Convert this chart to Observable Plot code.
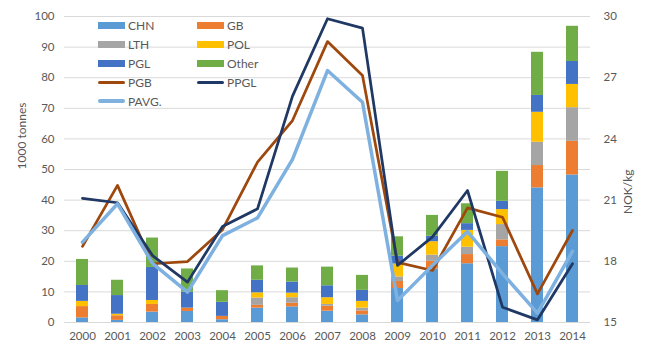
<!DOCTYPE html>
<html><head><meta charset="utf-8">
<script src="https://cdn.jsdelivr.net/npm/d3@7"></script>
<script src="https://cdn.jsdelivr.net/npm/@observablehq/plot@0.6"></script>
<style>
body{margin:0;background:#fff;font-family:Lato,"Open Sans",sans-serif;}
#wrap{position:relative;width:660px;height:364px;}
#legend{position:absolute;left:98px;top:16px;display:grid;grid-template-columns:99px 99px;grid-auto-rows:18.9px;font-size:12px;color:#595959;font-family:Lato,sans-serif;}
.item{display:flex;align-items:center;white-space:nowrap;}
.sw{width:27px;height:7px;margin-right:3px;flex:none;}
.ln{width:27px;height:3px;border-radius:2px;margin-right:3px;flex:none;}
</style></head><body><div id="wrap"><div id="legend"></div></div>
<script>
const years = [2000,2001,2002,2003,2004,2005,2006,2007,2008,2009,2010,2011,2012,2013,2014];
const seriesNames = ["CHN","GB","LTH","POL","PGL","Other"];
const barColors = ["#5B9BD5","#ED7D31","#A5A5A5","#FFC000","#4472C4","#70AD47"];
const CHN   = [1.5,0.7,3.4,3.6,0.9,4.7,5.1,3.7,2.5,11.1,17.5,19.2,24.8,44.0,48.2];
const GB    = [3.7,1.5,2.5,1.1,1.1,0.9,1.2,1.6,1.3,2.3,2.5,3.0,2.2,7.3,11.0];
const LTH   = [0,0,0,0,0,2.4,1.8,0.6,0.9,1.5,2.0,2.4,5.0,7.6,11.0];
const POL   = [1.7,0.5,1.3,0,0,1.7,1.5,2.2,2.2,4.2,4.4,5.5,4.9,9.8,7.6];
const PGL   = [5.2,6.1,10.8,5.2,4.6,4.1,3.6,3.9,3.6,2.6,1.8,2.2,2.7,5.5,7.5];
const Other = [8.5,5.0,9.6,7.6,3.8,4.7,4.6,6.1,4.9,6.3,6.8,6.5,9.8,14.1,11.5];
const lineNames = ["PGB","PPGL","PAVG."];
const lineColors = ["#9E480E","#203864","#7EB1E0"];
const lineWidths = [2.75,2.75,3.5];
const PGB  = [18.73,21.72,17.88,17.99,19.55,22.86,24.9,28.77,27.11,17.95,17.55,20.62,20.16,16.4,19.51];
const PPGL = [21.09,20.87,18.28,16.98,19.71,20.57,26.1,29.89,29.43,17.8,19.2,21.47,15.75,15.13,17.88];
const PAVG = [18.94,20.82,17.9,16.49,19.26,20.13,23.0,27.35,25.8,16.08,17.8,19.46,17.4,15.46,18.49];
const leftTicks = [0,10,20,30,40,50,60,70,80,90,100];
const rightTicks = [15,18,21,24,27,30];

const barSeries = {CHN, GB, LTH, POL, PGL, Other};
const lineSeries = [PGB, PPGL, PAVG];
const rMin = 15, rMax = 30, lMax = 100;
const conv = v => (v - rMin) / (rMax - rMin) * lMax;
const unconv = v => Math.round(v / lMax * (rMax - rMin) + rMin);

const rows = [];
years.forEach((yr, i) => seriesNames.forEach(s => rows.push({year: String(yr), series: s, value: barSeries[s][i]})));

const lineMarks = lineSeries.map((arr, k) =>
  Plot.line(years.map((yr, i) => ({year: String(yr), v: conv(arr[i])})),
    {x: "year", y: "v", stroke: lineColors[k], strokeWidth: lineWidths[k], strokeLinejoin: "round", strokeLinecap: "round"}));

const chart = Plot.plot({
  width: 660, height: 364,
  marginLeft: 64, marginRight: 70, marginTop: 16, marginBottom: 42,
  style: {fontFamily: "Lato, sans-serif", fontSize: "11.5px", color: "#595959", background: "#fff"},
  x: {type: "band", domain: years.map(String), paddingInner: 0.67, paddingOuter: 0.335, label: null},
  y: {domain: [0, 100], label: null},
  color: {domain: seriesNames, range: barColors},
  marks: [
    Plot.ruleY(leftTicks, {stroke: "#d9d9d9", strokeWidth: 1}),
    Plot.barY(rows, {x: "year", y: "value", fill: "series", order: seriesNames}),
    ...lineMarks,
    Plot.axisX({tickSize: 0, tickPadding: 9, label: null, fill: "#595959"}),
    Plot.axisY({ticks: leftTicks, tickSize: 0, tickPadding: 10, label: null, fill: "#595959"}),
    Plot.axisY({anchor: "right", ticks: rightTicks.map(conv), tickFormat: unconv, tickSize: 0, tickPadding: 13, label: null, fill: "#595959"}),
    Plot.text(["1000 tonnes"], {frameAnchor: "left", dx: -42, rotate: -90, fontSize: 12, fill: "#595959"}),
    Plot.text(["NOK/kg"], {frameAnchor: "right", dx: 38, rotate: -90, fontSize: 12, fill: "#595959"})
  ]
});
document.getElementById("wrap").prepend(chart);

const legendItems = [
  ["CHN", barColors[0], "bar"], ["GB", barColors[1], "bar"],
  ["LTH", barColors[2], "bar"], ["POL", barColors[3], "bar"],
  ["PGL", barColors[4], "bar"], ["Other", barColors[5], "bar"],
  [lineNames[0], lineColors[0], "line"], [lineNames[1], lineColors[1], "line"],
  [lineNames[2], lineColors[2], "line"]
];
const leg = document.getElementById("legend");
legendItems.forEach(([name, col, kind]) => {
  const it = document.createElement("div");
  it.className = "item";
  const sw = document.createElement("span");
  sw.className = kind === "bar" ? "sw" : "ln";
  sw.style.background = col;
  if (name === "PAVG.") sw.style.height = "3.5px";
  it.appendChild(sw);
  const t = document.createElement("span");
  t.textContent = name;
  it.appendChild(t);
  leg.appendChild(it);
});
</script></body></html>
